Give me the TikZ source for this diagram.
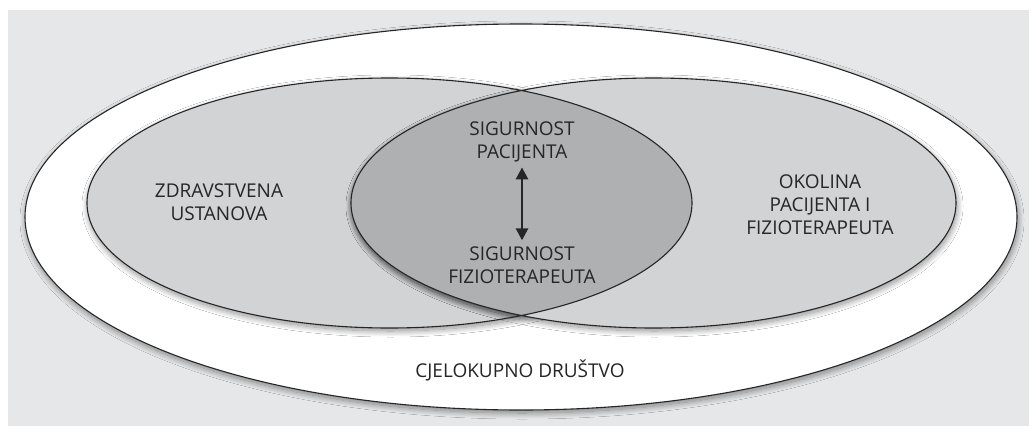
\documentclass[tikz,border=0pt]{standalone}
\usepackage{fontspec}
\setmainfont{Open Sans}
\usetikzlibrary{arrows.meta,shadows.blur}
\definecolor{bggray}{HTML}{E6E7E8}
\definecolor{setgray}{HTML}{D1D3D4}
\definecolor{lensgray}{HTML}{AEB0B2}
\definecolor{txtgray}{HTML}{262626}
\begin{document}
\begin{tikzpicture}[x=1pt, y=-1pt, line join=round, line cap=round,
		ring/.style={draw=black!85, line width=1.1pt},
		shade/.style={blur shadow={shadow xshift=1pt, shadow yshift=-3pt, shadow blur radius=6pt, shadow blur steps=20, shadow opacity=45}},
		lbl/.style={text=txtgray, font=\fontsize{19}{23}\selectfont, align=center, inner sep=0pt}]
	\def\lx{389.5}
	\def\rx{653.5}
	\def\cy{203}
	\tikzset{set/.style={x radius=302.5, y radius=125}}
	\useasboundingbox (0,0) rectangle (1029,426);
	\fill[white] (0,0) rectangle (1029,426);
	\fill[bggray] (8,10) rectangle (1029,426);
	% whole society
	\fill[white, shade] (521,217) ellipse [x radius=496, y radius=193];
	\draw[ring] (521,217) ellipse [x radius=496, y radius=193];
	% the two sets
	\fill[setgray, shade] (\lx,\cy) ellipse [set];
	\fill[setgray, shade] (\rx,\cy) ellipse [set];
	\begin{scope}
		\clip (\lx,\cy) ellipse [set];
		\fill[lensgray, shade] (\rx,\cy) ellipse [set];
	\end{scope}
	\draw[ring] (\lx,\cy) ellipse [set] (\rx,\cy) ellipse [set];
	% labels
	\node[lbl] (inst) at (219,202) {ZDRAVSTVENA\\USTANOVA};
	\node[lbl] (envir) at (820,205) {OKOLINA\\PACIJENTA I\\FIZIOTERAPEUTA};
	\node[lbl] (patient) at (522,142) {SIGURNOST\\PACIJENTA};
	\node[lbl] (physio) at (522,265) {SIGURNOST\\FIZIOTERAPEUTA};
	\node[lbl] (society) at (520,370) {CJELOKUPNO DRUŠTVO};
	\draw[black!85, line width=2.6pt, {Triangle[length=12pt,width=12pt]}-{Triangle[length=12pt,width=12pt]}, shorten <=5pt, shorten >=6pt] (patient) -- (physio);
\end{tikzpicture}
\end{document}
